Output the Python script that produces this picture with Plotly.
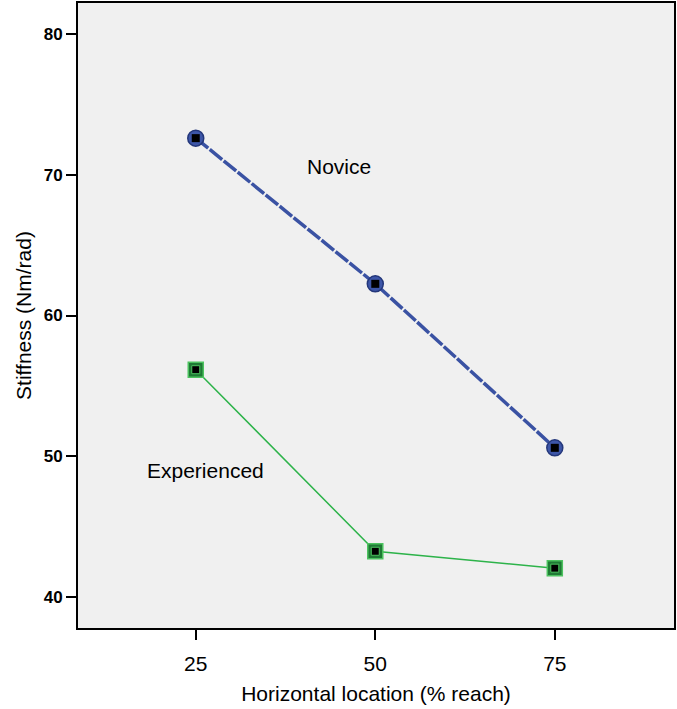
import plotly.graph_objects as go

x_vals = [25, 50, 75]
novice = [72.6, 62.25, 50.6]
experienced = [56.15, 43.25, 42.05]
x_ticks = [25, 50, 75]
y_ticks = [40, 50, 60, 70, 80]

blue = "#3a52a3"
green = "#2db34a"
FONT = "Liberation Sans, Arial, Helvetica"

fig = go.Figure()
fig.add_trace(go.Scatter(x=x_vals, y=novice, mode="lines",
                         line=dict(color=blue, width=3.5, dash="16px,2px"), showlegend=False))
fig.add_trace(go.Scatter(x=x_vals, y=experienced, mode="lines",
                         line=dict(color=green, width=1.5), showlegend=False))
# novice markers
fig.add_trace(go.Scatter(x=x_vals, y=novice, mode="markers",
                         marker=dict(symbol="circle", size=16, color="#3d56a8",
                                     line=dict(color="#24377a", width=1.5)), showlegend=False))
fig.add_trace(go.Scatter(x=x_vals, y=novice, mode="markers",
                         marker=dict(symbol="square", size=8, color="black",
                                     line=dict(width=0)), showlegend=False))
# experienced markers
fig.add_trace(go.Scatter(x=x_vals, y=experienced, mode="markers",
                         marker=dict(symbol="square", size=15, color="#1f7a35",
                                     line=dict(color="#4cc25f", width=1.5)), showlegend=False))
fig.add_trace(go.Scatter(x=x_vals, y=experienced, mode="markers",
                         marker=dict(symbol="square", size=8, color="black",
                                     line=dict(color="#4cc25f", width=1)), showlegend=False))

fig.add_annotation(x=44.9, y=70.55, text="Novice", showarrow=False,
                   font=dict(size=21, color="black", family=FONT))
fig.add_annotation(x=26.3, y=49.0, text="Experienced", showarrow=False,
                   font=dict(size=21, color="black", family=FONT))

fig.update_layout(
    width=677, height=709,
    margin=dict(l=78, r=1, t=3, b=81),
    paper_bgcolor="white", plot_bgcolor="#f0f0f0",
    font=dict(family=FONT, color="black"),
)
fig.update_xaxes(range=[8.6, 91.6], tickvals=x_ticks, ticks="outside", ticklen=10,
                 tickwidth=2, tickcolor="black", showgrid=False, zeroline=False,
                 showline=True, linecolor="black", linewidth=2, mirror=True,
                 ticklabelstandoff=6,
                 tickfont=dict(size=21), title=dict(text="Horizontal location (% reach)",
                 font=dict(size=21), standoff=12))
fig.update_yaxes(range=[37.8, 82.2], tickvals=y_ticks, ticks="outside", ticklen=10,
                 tickwidth=2, tickcolor="black", showgrid=False, zeroline=False,
                 showline=True, linecolor="black", linewidth=2, mirror=True,
                 tickfont=dict(size=17, family="Liberation Sans Narrow, Liberation Sans, Arial", weight="bold"),
                 title=dict(text="Stiffness (Nm/rad)", font=dict(size=21), standoff=6))

fig.write_html("out.html", config={"displayModeBar": False},
               post_script="document.body.style.margin='0';")
